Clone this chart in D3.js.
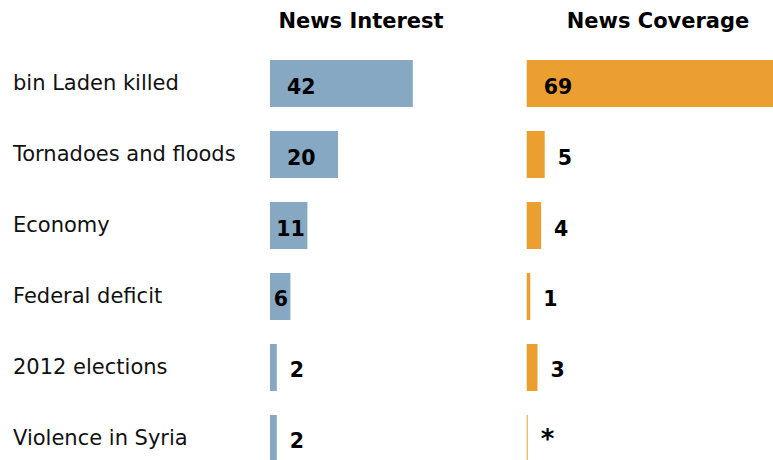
<!DOCTYPE html>
<html>
<head>
<meta charset="utf-8">
<script src="https://cdn.jsdelivr.net/npm/d3@7"></script>
<style>
  html, body { margin: 0; padding: 0; background: #fff; }
  svg { display: block; }
</style>
</head>
<body>
<svg id="chart" width="773" height="460"></svg>
<script>
const categories = ["bin Laden killed", "Tornadoes and floods", "Economy", "Federal deficit", "2012 elections", "Violence in Syria"];
const interestValues = [42, 20, 11, 6, 2, 2];
const interestLabels = ["42", "20", "11", "6", "2", "2"];
const coverageValues = [69, 5, 4, 1, 3, 0];
const coverageLabels = ["69", "5", "4", "1", "3", "*"];
const headers = ["News Interest", "News Coverage"];

const W = 773, H = 460;
const svg = d3.select("#chart");
const font = "'DejaVu Sans', Verdana, sans-serif";

const y = d3.scaleBand()
  .domain(categories)
  .range([60, 60 + 71 * 6 - 24])
  .paddingInner(0.338)
  .paddingOuter(0)
  .align(0);

const panels = [
  { values: interestValues, labels: interestLabels, color: "#86a8c3",
    x: d3.scaleLinear().domain([0, 100]).range([270, 610]), header: headers[0], hx: 361 },
  { values: coverageValues, labels: coverageLabels, color: "#ea9f30",
    x: d3.scaleLinear().domain([0, 100]).range([526.7, 886.7]), header: headers[1], hx: 658 }
];

// category labels
svg.append("g").selectAll("text")
  .data(categories)
  .join("text")
  .attr("x", 13)
  .attr("y", d => y(d) + y.bandwidth() / 2 + 6.5)
  .attr("font-family", font)
  .attr("font-size", 21)
  .attr("fill", "#111")
  .text(d => d);

const LS = 20.5;
const meas = svg.append("text").attr("font-family", font).attr("font-size", LS).attr("font-weight", "bold").attr("visibility", "hidden");
function textW(s) { meas.text(s); return meas.node().getComputedTextLength(); }

panels.forEach(p => {
  svg.append("text")
    .attr("x", p.hx)
    .attr("y", 28)
    .attr("text-anchor", "middle")
    .attr("font-family", font)
    .attr("font-size", 21)
    .attr("font-weight", "bold")
    .attr("fill", "#000")
    .text(p.header);

  const g = svg.append("g");
  const x0 = p.x(0);
  const rows = categories.map((c, i) => ({ c, v: p.values[i], l: p.labels[i] }));

  g.selectAll("rect")
    .data(rows)
    .join("rect")
    .attr("x", x0)
    .attr("y", d => y(d.c))
    .attr("width", d => Math.max(p.x(d.v) - x0, 1))
    .attr("height", y.bandwidth())
    .attr("fill", p.color);

  g.selectAll("text")
    .data(rows)
    .join("text")
    .attr("x", d => {
      const bw = p.x(d.v) - x0;
      const tw = textW(d.l);
      if (bw > tw + 34) return x0 + 17;
      if (bw >= tw + 5) return p.x(d.v) - tw - 2.5;
      return Math.max(p.x(d.v), x0 + 1) + 13;
    })
    .attr("y", d => y(d.c) + y.bandwidth() / 2 + 10)
    .attr("font-family", font)
    .attr("font-size", d => d.l === "*" ? 26 : LS)
    .attr("font-weight", "bold")
    .attr("fill", "#000")
    .text(d => d.l);
});
meas.remove();
</script>
</body>
</html>
